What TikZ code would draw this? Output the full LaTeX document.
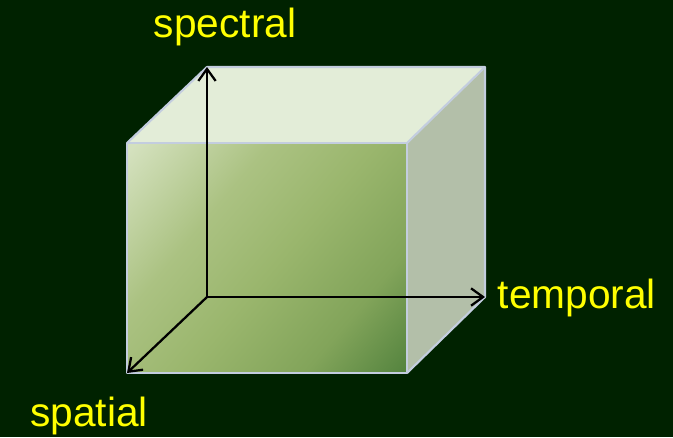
\documentclass[tikz,border=0pt]{standalone}
\usepackage{fontspec}
\setmainfont{Liberation Sans}
\usetikzlibrary{arrows.meta, positioning, calc}
\definecolor{cbg}{HTML}{002200}
\definecolor{cedge}{HTML}{C3CDDF}
\definecolor{ctop}{HTML}{E3EDD8}
\definecolor{cside}{HTML}{B3BFA9}
\definecolor{clight}{HTML}{D4E1BE}
\definecolor{cpale}{HTML}{ABC282}
\definecolor{cmid}{HTML}{9AB66D}
\definecolor{cdeep}{HTML}{82A45A}
\definecolor{cdark}{HTML}{4B7D39}
\definecolor{cyel}{HTML}{FFFF00}
\pgfdeclareverticalshading{facegrad}{100bp}{color(0bp)=(cdark); color(12bp)=(cdark);
  color(30bp)=(cdeep); color(48bp)=(cmid); color(64bp)=(cpale); color(84bp)=(clight); color(100bp)=(clight)}
\tikzset{
  every picture/.style={line width=1.1pt},
  face/.style={draw=cedge, line width=1.6pt, line join=round},
  axis/.style={-{Straight Barb[length=9pt, width=13pt, line width=1.7pt]}, draw=black, line width=1.7pt},
  label/.style={text=cyel, font=\fontsize{30.5}{36}\selectfont, inner sep=0pt},
}
\begin{document}
\begin{tikzpicture}[x=0.75pt, y=-0.75pt]
  \fill[cbg] (0,0) rectangle (673,437);
  \useasboundingbox (0,0) rectangle (673,437);
  % corners of the box
  \coordinate (fbl) at (127,373);
  \coordinate (ftl) at (127,143);
  \coordinate (ftr) at (407,143);
  \coordinate (fbr) at (407,373);
  \coordinate (btl) at (207,67);
  \coordinate (btr) at (485,67);
  \coordinate (bbr) at (485,297);
  \coordinate (orig) at (207,297);
  % faces
  \shade[shading=facegrad, shading angle=50] (fbl) rectangle (ftr);
  \fill[ctop] (ftl) -- (btl) -- (btr) -- (ftr) -- cycle;
  \fill[cside] (ftr) -- (btr) -- (bbr) -- (fbr) -- cycle;
  \draw[face] (fbl) rectangle (ftr);
  \draw[face] (ftl) -- (btl) -- (btr) -- (ftr);
  \draw[face] (btr) -- (bbr) -- (fbr);
  % axes
  \draw[axis] (orig) -- (btl);
  \draw[axis] (orig) -- (bbr);
  \draw[axis] (orig) -- (fbl);
  % labels
  \node[label] (spectral) at (225,27) {spectral};
  \node[label, anchor=west] (temporal) at (497,298) {temporal};
  \node[label] (spatial) at (89,416) {spatial};
\end{tikzpicture}
\end{document}
